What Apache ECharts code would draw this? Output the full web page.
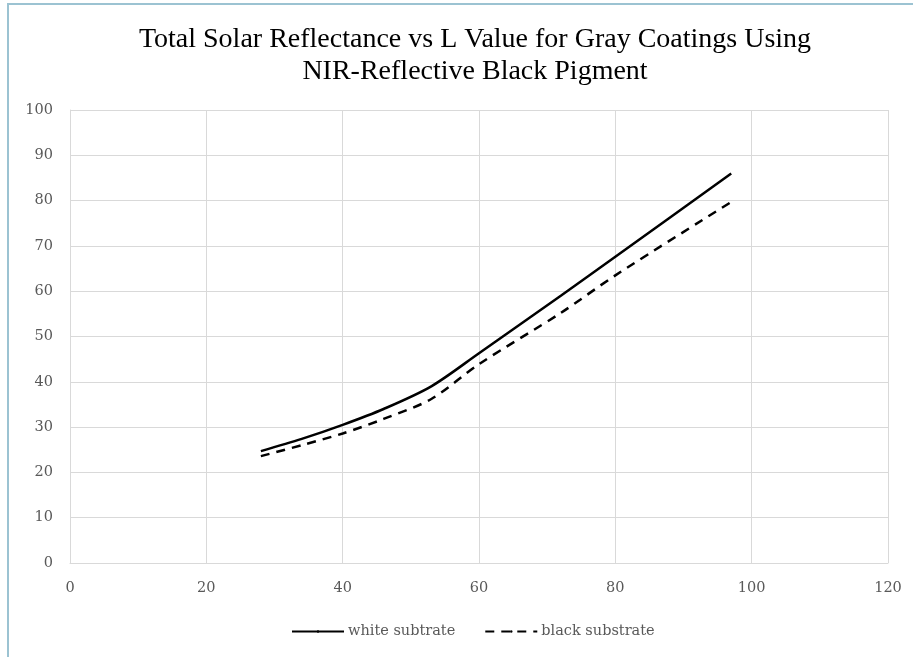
<!DOCTYPE html>
<html>
<head>
<meta charset="utf-8">
<script src="https://cdn.jsdelivr.net/npm/echarts@6/dist/echarts.min.js"></script>
<style>
  html, body { margin: 0; padding: 0; background: #fff; }
  #frame { position: absolute; left: 7px; top: 3px; width: 906px; height: 654px;
           border-left: 2px solid #9cc3d2; border-top: 2px solid #9cc3d2; box-sizing: border-box; }
  #chart { position: absolute; left: 0; top: 0; width: 913px; height: 657px; }
</style>
</head>
<body>
<div id="frame"></div>
<div id="chart"></div>
<script>
// L value readings (x) and total solar reflectance (y)
var lValues = [28, 34, 40, 46, 53, 60, 72, 80, 97];
var whiteSubstrate = [24.7, 27.4, 30.5, 34.0, 39.0, 46.3, 59.0, 67.6, 86.0];
var blackSubstrate = [23.6, 26.0, 28.6, 31.8, 36.2, 43.9, 55.2, 63.5, 79.7];
var seriesNames = ['white subtrate', 'black substrate'];

function pairs(xs, ys) {
  return xs.map(function (x, i) { return [x, ys[i]]; });
}

var titleFont = '"Liberation Serif", serif';
var labelFont = '"DejaVu Serif", serif';
var mychart = echarts.init(document.getElementById('chart'));
var option = {
  animation: false,
  title: {
    text: 'Total Solar Reflectance vs L Value for Gray Coatings Using\nNIR-Reflective Black Pigment',
    left: 470,
    textAlign: 'center',
    top: 19,
    textStyle: { fontFamily: titleFont, fontSize: 28, fontWeight: 'normal', color: '#000', lineHeight: 32 }
  },
  legend: {
    bottom: 13,
    left: 286,
    itemWidth: 52,
    itemHeight: 3,
    itemGap: 29,
    textStyle: { fontFamily: labelFont, fontSize: 14.5, color: '#595959', padding: [0, 0, 0, -1] },
    data: seriesNames
  },
  grid: { left: 70, right: 25, top: 110, bottom: 94 },
  xAxis: {
    type: 'value', min: 0, max: 120, interval: 20,
    axisLine: { show: true, lineStyle: { color: '#d9d9d9' } },
    axisTick: { show: false },
    splitLine: { show: true, lineStyle: { color: '#d9d9d9' } },
    axisLabel: { fontFamily: labelFont, fontSize: 14.5, color: '#595959', margin: 18 }
  },
  yAxis: {
    type: 'value', min: 0, max: 100, interval: 10,
    axisLine: { show: true, lineStyle: { color: '#d9d9d9' } },
    axisTick: { show: false },
    splitLine: { show: true, lineStyle: { color: '#d9d9d9' } },
    axisLabel: { fontFamily: labelFont, fontSize: 14.5, color: '#595959', margin: 17 }
  },
  series: [
    {
      name: seriesNames[0], type: 'line', smooth: 0.3, symbol: 'none',
      lineStyle: { color: '#000', width: 2.5, type: 'solid' },
      itemStyle: { color: '#000' },
      data: pairs(lValues, whiteSubstrate)
    },
    {
      name: seriesNames[1], type: 'line', smooth: 0.3, symbol: 'none',
      lineStyle: { color: '#000', width: 2.5, type: [9, 7] },
      itemStyle: { color: '#000' },
      data: pairs(lValues, blackSubstrate)
    }
  ]
};
mychart.setOption(option);
</script>
</body>
</html>
